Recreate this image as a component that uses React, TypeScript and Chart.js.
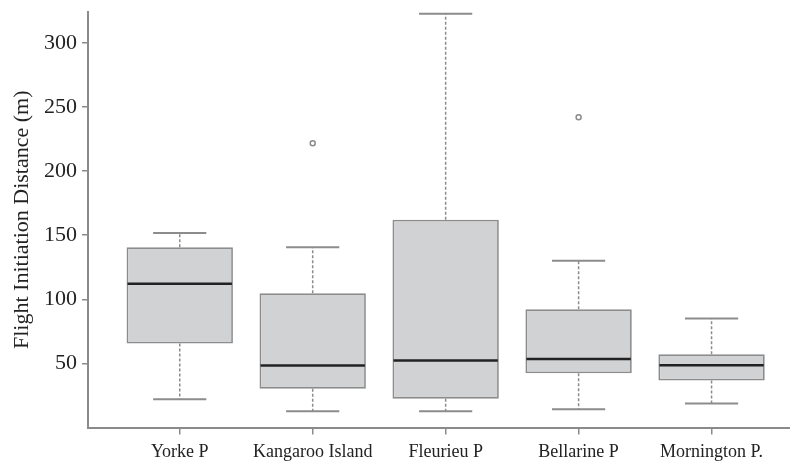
import React, { useEffect, useRef } from "react";
import { Chart, registerables } from "chart.js";

Chart.register(...registerables);

const categories = ["Yorke P", "Kangaroo Island", "Fleurieu P", "Bellarine P", "Mornington P."];
const whiskerLow = [22, 12.6, 12.6, 14.2, 18.8];
const q1 = [65.5, 30.2, 22.4, 42.4, 36.7];
const median = [112, 48.4, 52.3, 53.5, 48.6];
const q3 = [140.5, 104.7, 162, 92.2, 57.2];
const whiskerHigh = [151.6, 140.5, 322.6, 130.1, 85];
const outlierCategory = [2, 4];
const outlierValue = [221.6, 241.9];
const yTicks = [50, 100, 150, 200, 250, 300];

const AXIS = "#8a8a8a";
const FONT = "'Liberation Serif', 'Times New Roman', serif";

const boxPlugin = {
  id: "boxParts",
  afterDatasetsDraw(chart: any) {
    const ctx = chart.ctx;
    const x = chart.scales.x;
    const y = chart.scales.y;
    ctx.save();
    categories.forEach((_, i) => {
      const cx = x.getPixelForValue(i + 1);
      const capL = x.getPixelForValue(i + 1 - 0.2);
      const capR = x.getPixelForValue(i + 1 + 0.2);
      const boxL = x.getPixelForValue(i + 1 - 0.4);
      const boxR = x.getPixelForValue(i + 1 + 0.4);
      ctx.strokeStyle = "#8c8c8c";
      ctx.lineWidth = 1.5;
      ctx.setLineDash([3, 2]);
      ctx.beginPath();
      ctx.moveTo(cx, y.getPixelForValue(q3[i]));
      ctx.lineTo(cx, y.getPixelForValue(whiskerHigh[i]));
      ctx.moveTo(cx, y.getPixelForValue(q1[i]));
      ctx.lineTo(cx, y.getPixelForValue(whiskerLow[i]));
      ctx.stroke();
      ctx.setLineDash([]);
      ctx.lineWidth = 2;
      ctx.beginPath();
      ctx.moveTo(capL, y.getPixelForValue(whiskerHigh[i]));
      ctx.lineTo(capR, y.getPixelForValue(whiskerHigh[i]));
      ctx.moveTo(capL, y.getPixelForValue(whiskerLow[i]));
      ctx.lineTo(capR, y.getPixelForValue(whiskerLow[i]));
      ctx.stroke();
      ctx.strokeStyle = "#222222";
      ctx.lineWidth = 2.5;
      ctx.beginPath();
      ctx.moveTo(boxL + 1, y.getPixelForValue(median[i]));
      ctx.lineTo(boxR - 1, y.getPixelForValue(median[i]));
      ctx.stroke();
    });
    ctx.restore();
  },
};

export default function App() {
  const ref = useRef<HTMLCanvasElement | null>(null);

  useEffect(() => {
    document.body.style.margin = "0";
    if (!ref.current) return;
    const chart = new Chart(ref.current, {
      type: "bar",
      data: {
        datasets: [
          {
            type: "bar",
            data: categories.map((_, i) => ({ x: i + 1, y: [q1[i], q3[i]] })) as any,
            backgroundColor: "#d1d2d4",
            borderColor: "#8c8c8c",
            borderWidth: 1.75,
            borderSkipped: false,
            categoryPercentage: 0.8,
            barPercentage: 1,
          } as any,
          {
            type: "scatter",
            data: outlierCategory.map((c, i) => ({ x: c, y: outlierValue[i] })),
            pointStyle: "circle",
            pointRadius: 2.5,
            hoverRadius: 2.5,
            borderWidth: 1.5,
            borderColor: "#8c8c8c",
            backgroundColor: "#ffffff",
          } as any,
        ],
      },
      options: {
        animation: false,
        responsive: true,
        maintainAspectRatio: false,
        layout: { autoPadding: false, padding: { top: 12, right: 0, left: 0, bottom: 0 } },
        plugins: { legend: { display: false }, tooltip: { enabled: false } },
        scales: {
          x: {
            type: "linear",
            offset: false,
            min: 0.31,
            max: 5.59,
            afterBuildTicks: (s: any) => {
              s.ticks = categories.map((_, i) => ({ value: i + 1 }));
            },
            afterFit: (s: any) => {
              s.height = 33.5;
              s.paddingLeft = 0;
              s.paddingRight = 0;
            },
            grid: { offset: false, drawOnChartArea: false, color: AXIS, tickLength: 7, lineWidth: 1.5 },
            border: { display: true, color: AXIS, width: 2 },
            ticks: {
              autoSkip: false,
              maxRotation: 0,
              padding: 7,
              color: "#222222",
              font: { family: FONT, size: 18 },
              callback: (v: any) => categories[Number(v) - 1] ?? "",
            },
          },
          y: {
            type: "linear",
            min: 0,
            max: 324,
            afterBuildTicks: (s: any) => {
              s.ticks = yTicks.map((v) => ({ value: v }));
            },
            afterFit: (s: any) => {
              s.width = 88;
              s.paddingTop = 0;
              s.paddingBottom = 0;
            },
            grid: { drawOnChartArea: false, color: AXIS, tickLength: 6, lineWidth: 1.5 },
            border: { display: true, color: AXIS, width: 2 },
            ticks: {
              padding: 5,
              color: "#222222",
              font: { family: FONT, size: 22 },
            },
            title: {
              display: true,
              text: "Flight Initiation Distance (m)",
              color: "#222222",
              font: { family: FONT, size: 22 },
              padding: { top: 9, bottom: 0 },
            },
          },
        },
      } as any,
      plugins: [boxPlugin],
    });
    return () => chart.destroy();
  }, []);

  return (
    <div style={{ position: "absolute", left: 0, top: 0, width: 790, height: 461 }}>
      <canvas ref={ref} />
    </div>
  );
}
